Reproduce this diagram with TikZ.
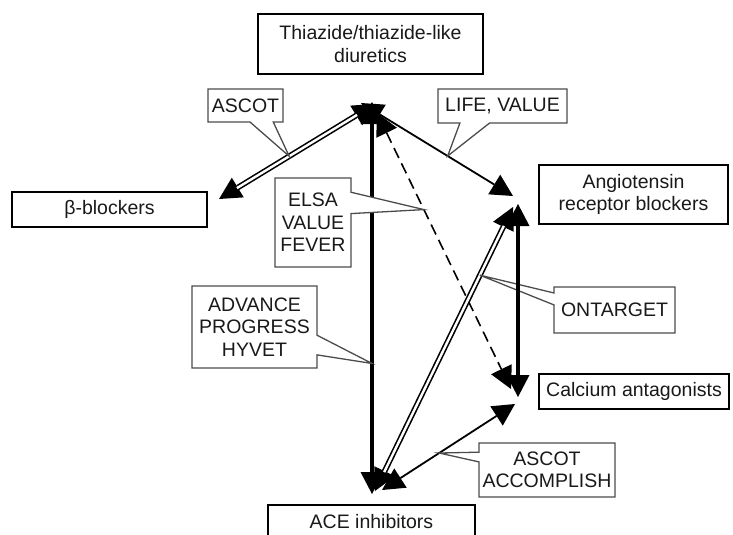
\documentclass[tikz,border=0pt]{standalone}
\usepackage{fontspec}
\setmainfont{Liberation Sans}
\usetikzlibrary{arrows.meta,calc}
\begin{document}
\begin{tikzpicture}[x=1pt,y=-1pt,
  txt/.style={font=\fontsize{19.5}{22.5}\selectfont, align=center, inner sep=0pt, outer sep=0pt, text=black!90},
  mainbox/.style={txt, draw=black, line width=1.3pt, fill=white},
  geom/.style={inner sep=0pt, outer sep=0pt},
  callout/.style={draw=black!70, line width=1.3pt, fill=white, line join=miter},
  tips/.style={{Triangle[length=22pt,width=23pt,line width=0pt]}-{Triangle[length=22pt,width=23pt,line width=0pt]}},
  thickline/.style={tips, line width=3.2pt},
  thinline/.style={tips, line width=1.8pt},
  dashline/.style={tips, line width=1.6pt, dash pattern=on 11pt off 6pt},
  dblout/.style={tips, line width=5.6pt},
  dblin/.style={white, line width=2.4pt, shorten <=21pt, shorten >=21pt}
]
\useasboundingbox (0,0) rectangle (733,535);

% main boxes
\node[mainbox, minimum width=225pt, minimum height=60pt] (thz) at (370.5,44) {Thiazide/thiazide-like\\diuretics};
\node[mainbox, minimum width=195pt, minimum height=35pt] (bb) at (109.5,209.5) {β-blockers};
\node[mainbox, minimum width=189pt, minimum height=59pt] (arb) at (633.5,194.5) {Angiotensin\\receptor blockers};
\node[mainbox, minimum width=190pt, minimum height=35pt] (ca) at (634,391.5) {Calcium antagonists};
\node[mainbox, minimum width=207pt, minimum height=34pt] (ace) at (371.5,522) {ACE inhibitors};

% connector end points
\coordinate (bbE) at (219,199);  \coordinate (thzA) at (375,104);
\coordinate (arbL) at (513,196); \coordinate (thzB) at (361,103);
\coordinate (thzC) at (372,102); \coordinate (aceC) at (372,494);
\coordinate (thzD) at (377,113); \coordinate (caD) at (511,389);
\coordinate (arbE) at (518,204); \coordinate (caE) at (518,397);
\coordinate (aceF) at (375,491); \coordinate (arbF) at (513,207);
\coordinate (aceG) at (382,490); \coordinate (caG) at (515,404);

% connectors
\draw[dblout] (bbE) -- (thzA);
\draw[dblin] (bbE) -- (thzA);
\draw[thinline] (thzB) -- (arbL);
\draw[thickline] (thzC) -- (aceC);
\draw[dashline] (thzD) -- (caD);
\draw[dblout] (aceF) -- (arbF);
\draw[dblin] (aceF) -- (arbF);
\draw[thinline] (aceG) -- (caG);

% callout pointer tips
\path (bbE) -- (thzA) coordinate[pos=0.45] (kAscot);
\path (thzB) -- (arbL) coordinate[pos=0.57] (kLife);
\path (thzD) -- (caD) coordinate[pos=0.35] (kElsa);
\path (thzC) -- (aceC) coordinate[pos=0.667] (kAdv);
\path (aceF) -- (arbF) coordinate[pos=0.76] (kOnt);
\path (aceG) -- (caG) coordinate[pos=0.43] (kAcc);

% callouts
\node[geom, minimum width=75pt, minimum height=33pt] (cAscot) at (245.5,105.5) {};
\draw[callout] (cAscot.north west) -- (cAscot.north east) -- (cAscot.south east)
  -- ($(cAscot.south west)!0.87!(cAscot.south east)$) -- (kAscot)
  -- ($(cAscot.south west)!0.56!(cAscot.south east)$) -- (cAscot.south west) -- cycle;
\node[txt] (cAscotL) at (cAscot) {ASCOT};

\node[geom, minimum width=129pt, minimum height=34pt] (cLife) at (502.5,106) {};
\draw[callout] (cLife.north west) -- (cLife.north east) -- (cLife.south east)
  -- ($(cLife.south west)!0.40!(cLife.south east)$) -- (kLife)
  -- ($(cLife.south west)!0.17!(cLife.south east)$) -- (cLife.south west) -- cycle;
\node[txt] (cLifeL) at (cLife) {LIFE, VALUE};

\node[geom, minimum width=76pt, minimum height=89pt] (cElsa) at (313,222.5) {};
\draw[callout] (cElsa.north west) -- (cElsa.north east)
  -- ($(cElsa.north east)!0.16!(cElsa.south east)$) -- (kElsa)
  -- ($(cElsa.north east)!0.40!(cElsa.south east)$) -- (cElsa.south east)
  -- (cElsa.south west) -- cycle;
\node[txt] (cElsaL) at (cElsa) {ELSA\\VALUE\\FEVER};

\node[geom, minimum width=125pt, minimum height=82pt] (cAdv) at (254.5,327) {};
\draw[callout] (cAdv.north west) -- (cAdv.north east)
  -- ($(cAdv.north east)!0.60!(cAdv.south east)$) -- (kAdv)
  -- ($(cAdv.north east)!0.84!(cAdv.south east)$) -- (cAdv.south east)
  -- (cAdv.south west) -- cycle;
\node[txt] (cAdvL) at (cAdv) {ADVANCE\\PROGRESS\\HYVET};

\node[geom, minimum width=121pt, minimum height=46pt] (cOnt) at (614.5,310) {};
\draw[callout] (cOnt.north west) -- (cOnt.north east) -- (cOnt.south east)
  -- (cOnt.south west) -- ($(cOnt.north west)!0.39!(cOnt.south west)$) -- (kOnt)
  -- ($(cOnt.north west)!0.13!(cOnt.south west)$) -- cycle;
\node[txt] (cOntL) at (cOnt) {ONTARGET};

\node[geom, minimum width=136pt, minimum height=54pt] (cAcc) at (547,470) {};
\draw[callout] (cAcc.north west) -- (cAcc.north east) -- (cAcc.south east)
  -- (cAcc.south west) -- ($(cAcc.north west)!0.35!(cAcc.south west)$) -- (kAcc)
  -- ($(cAcc.north west)!0.17!(cAcc.south west)$) -- cycle;
\node[txt] (cAccL) at (cAcc) {ASCOT\\ACCOMPLISH};

% ARB -- calcium antagonists (drawn over the ONTARGET pointer)
\draw[thickline] (arbE) -- (caE);
\end{tikzpicture}
\end{document}
